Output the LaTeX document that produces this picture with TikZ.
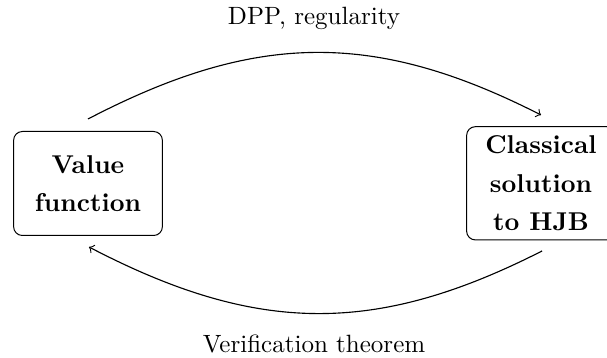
\documentclass[tikz,border=0pt]{standalone}
\usetikzlibrary{arrows}
\tikzset{
  statebox/.style={draw, rounded corners=3.5pt, align=center, inner sep=0pt,
    minimum width=59.5pt, font=\fontsize{10.3}{15.4}\selectfont\bfseries},
  flow/.style={->, line width=0.45pt},
  edgelabel/.style={anchor=base, inner sep=0pt, font=\fontsize{10}{12}\selectfont}
}
\begin{document}
\begin{tikzpicture}[x=0.4pt, y=-0.4pt]
  \useasboundingbox (0,0) rectangle (607,358);
  \begin{scope}
    \clip (0,0) rectangle (607,358);
    % the two boxes
    \node[statebox, minimum height=41.6pt] (vf) at (88,183.5) {Value\\function};
    \node[statebox, minimum height=45.3pt] (hjb) at (541,183.3) {Classical\\solution\\to HJB};
  \end{scope}
  % end points of the two curved connectors
  \coordinate (vfTop) at (88,119);
  \coordinate (hjbTop) at (541,115);
  \coordinate (hjbBot) at (542,251);
  \coordinate (vfBot) at (89,247);
  \draw[flow] (vfTop) .. controls (255,32) and (374,30) .. (hjbTop);
  \draw[flow] (hjbBot) .. controls (375,336) and (256,334) .. (vfBot);
  % labels
  \node[edgelabel] (dpp) at (314,25) {DPP, regularity};
  \node[edgelabel] (verif) at (314,353) {Verification theorem};
\end{tikzpicture}
\end{document}
